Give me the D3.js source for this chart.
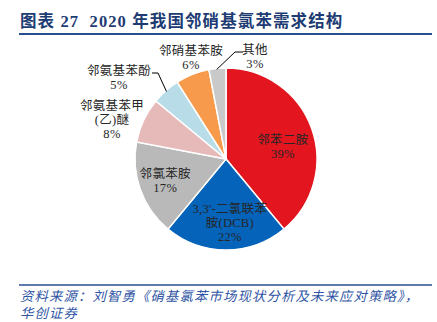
<!DOCTYPE html>
<html><head><meta charset="utf-8">
<script src="https://cdn.jsdelivr.net/npm/d3@7"></script>
<style>
html,body{margin:0;padding:0;background:#fff;}
svg{display:block;}
text{white-space:pre;}
</style></head>
<body>
<script>
// ---- data ----
const categories = ["邻苯二胺", "3,3'-二氯联苯胺(DCB)", "邻氯苯胺", "邻氨基苯甲(乙)醚", "邻氨基苯酚", "邻硝基苯胺", "其他"];
const values = [39, 22, 17, 8, 5, 6, 3];
const labelLines = [
  ["邻苯二胺"],
  ["3,3'-二氯联苯", "胺(DCB)"],
  ["邻氯苯胺"],
  ["邻氨基苯甲", "(乙)醚"],
  ["邻氨基苯酚"],
  ["邻硝基苯胺"],
  ["其他"]
];
const colors = ["#E3151F", "#0563B9", "#B9B9B9", "#E7BABA", "#B8DDE8", "#F79A4B", "#C9C9C9"];
const title = "图表 27  2020 年我国邻硝基氯苯需求结构";
const sourceLines = ["资料来源：刘智勇《硝基氯苯市场现状分析及未来应对策略》，", "华创证券"];

// ---- layout ----
const W = 437, H = 322;
const cx = 226, cy = 159, R = 91;
const serif = "'Liberation Serif','Times New Roman','Noto Sans CJK SC',serif";

const svg = d3.select("body").append("svg").attr("width", W).attr("height", H);

// title
svg.append("text").attr("x", 20).attr("y", 27)
  .attr("font-family", serif).attr("font-weight", "bold").attr("font-size", 16.5)
  .attr("letter-spacing", 1.1)
  .attr("fill", "#1D3C73").text(title);
svg.append("line").attr("x1", 19).attr("x2", 432).attr("y1", 34).attr("y2", 34)
  .attr("stroke", "#2B4F8F").attr("stroke-width", 2);

// pie
const pie = d3.pie().sort(null).value(d => d)(values);
const arc = d3.arc().innerRadius(0).outerRadius(R);
const g = svg.append("g").attr("transform", `translate(${cx},${cy})`);
g.selectAll("path").data(pie).join("path")
  .attr("d", arc).attr("fill", (d, i) => colors[i])
  .attr("stroke", "#fff").attr("stroke-width", 1.5);

const labelPlace = [
  {type: "in", r: 0.64, da: 0.13},
  {type: "in", r: 0.7, da: -0.06},
  {type: "in", r: 0.71, da: 0.0},
  {type: "out", x: 112, y: 105},
  {type: "out", x: 119, y: 70},
  {type: "out", x: 191, y: 50},
  {type: "out", x: 255, y: 49}
];
const lineH = 14;
pie.forEach((d, i) => {
  const p = labelPlace[i];
  let x, y;
  const lines = labelLines[i].concat([values[i] + "%"]);
  if (p.type === "in") {
    const a = (d.startAngle + d.endAngle) / 2 + p.da;
    x = cx + Math.sin(a) * R * p.r;
    const yc = cy - Math.cos(a) * R * p.r;
    y = yc - (lines.length - 1) * lineH / 2;
  } else {
    x = p.x; y = p.y;
  }
  const t = svg.append("text").attr("text-anchor", "middle")
    .attr("font-family", serif).attr("font-size", 12.5).attr("fill", "#262626")
    .attr("letter-spacing", 0.3);
  lines.forEach((s, k) => {
    t.append("tspan").attr("x", x).attr("y", y + k * lineH + 4.5).text(s);
  });
});

function edgePoint(d, frac) {
  const a = d.startAngle + (d.endAngle - d.startAngle) * frac;
  return [cx + Math.sin(a) * (R - 1), cy - Math.cos(a) * (R - 1)];
}
const leaders = [
  {i: 4, pts: [[152, 73], [158, 73]], frac: 0.5},
  {i: 6, pts: [[243, 52], [235, 52]], frac: 0.45}
];
leaders.forEach(l => {
  const e = edgePoint(pie[l.i], l.frac);
  svg.append("polyline").attr("points", l.pts.concat([e]).map(p => p.join(",")).join(" "))
    .attr("fill", "none").attr("stroke", "#000").attr("stroke-width", 1);
});

// source
svg.append("line").attr("x1", 19).attr("x2", 432).attr("y1", 285).attr("y2", 285)
  .attr("stroke", "#2B4F8F").attr("stroke-width", 1.5);
sourceLines.forEach((s, k) => {
  svg.append("text").attr("x", 20).attr("y", 301 + k * 17)
    .attr("font-family", serif).attr("font-style", "italic").attr("font-size", 13.3)
    .attr("letter-spacing", 1.2)
    .attr("fill", "#2F55A4").text(s);
});
</script>
</body></html>
